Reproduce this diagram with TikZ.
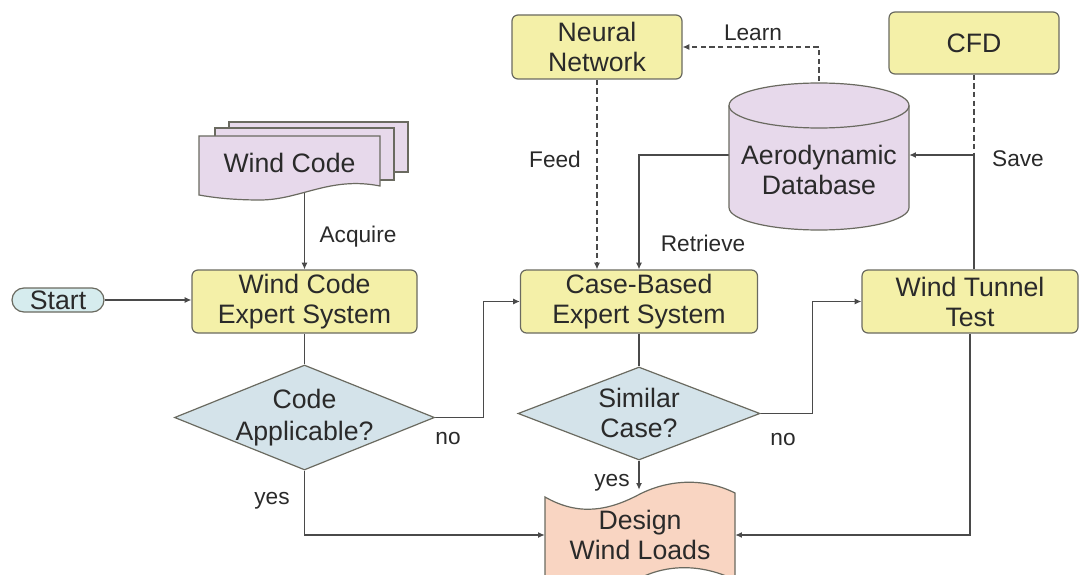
\documentclass[tikz,border=0pt]{standalone}
\usepackage{fontspec}
\setmainfont{Liberation Sans}
\usetikzlibrary{shapes.geometric,arrows.meta,backgrounds}
\definecolor{boxy}{HTML}{F4F0A8}
\definecolor{bord}{HTML}{6A6A60}
\definecolor{diac}{HTML}{D4E3EA}
\definecolor{purp}{HTML}{E7D9EB}
\definecolor{startc}{HTML}{D6ECEE}
\definecolor{peach}{HTML}{F9D5C2}
\definecolor{txt}{HTML}{2A2A2A}
\definecolor{linec}{HTML}{4A4A4A}
\newcommand\bfnt{\fontsize{20}{22.5}\selectfont}
\newcommand\lfnt{\fontsize{17}{20}\selectfont}
\begin{document}
\begin{tikzpicture}[x=0.75pt,y=-0.75pt,
  box/.style={draw=bord, fill=boxy, rounded corners=4.5pt, line width=0.9pt, align=center, font=\bfnt, text=txt, inner sep=0pt},
  dia/.style={diamond, draw=bord, fill=diac, line width=0.9pt, inner sep=0pt},
  dtext/.style={align=center, font=\bfnt, text=txt, inner sep=0pt},
  shp/.style={draw=bord, line width=0.9pt},
  lbl/.style={font=\lfnt, text=txt, inner sep=0pt},
  conn/.style={draw=linec, line width=0.9pt},
  arr/.style={conn, -{Latex[length=5pt,width=4.5pt]}},
  dsh/.style={dash pattern=on 4pt off 2.5pt}]
\useasboundingbox (0,0) rectangle (1080,574);
\clip (0,0) rectangle (1080,574);

% Wind code document stack
\filldraw[shp, fill=purp] (229,122) rectangle (408,172);
\filldraw[shp, fill=purp] (215,128) rectangle (394,180);
\filldraw[shp, fill=purp] (199,136) -- (380,136) -- (380,186) .. controls (330,176) and (300,200) .. (260,200) .. controls (230,200) and (210,197) .. (199,195) -- cycle;
\node[dtext] (wc) at (289.5,163) {Wind Code};

% Start
\node[draw=bord, fill=startc, rounded corners=9pt, line width=0.9pt, minimum width=69pt, minimum height=18pt, inner sep=0pt, font=\bfnt, text=txt] (start) at (58,300) {Start};

% boxes
\node[box, minimum width=168.75pt, minimum height=47.25pt] (wces) at (304.5,301.5) {Wind Code\\Expert System};
\node[box, minimum width=177.75pt, minimum height=47.25pt] (cbes) at (639,301.5) {Case-Based\\Expert System};
\node[box, minimum width=127.5pt, minimum height=48pt] (nn) at (597,47) {Neural\\Network};
\node[box, minimum width=127.5pt, minimum height=46.5pt] (cfd) at (974,43) {CFD};
\node[box, minimum width=162pt, minimum height=47.25pt] (wtt) at (970,301.5) {Wind Tunnel\\Test};

% diamonds
\node[dia, minimum width=195pt, minimum height=78.75pt] (ca) at (304.5,417.5) {};
\node[dtext] at (304.5,418) {Code\\[1.5pt]Applicable?};
\node[dia, minimum width=181.5pt, minimum height=69.75pt] (sc) at (639,413.5) {};
\node[dtext] at (639,413) {Similar\\Case?};

% database cylinder
\filldraw[shp, fill=purp] (729,105.5) -- (729,207.5) arc[start angle=180, end angle=360, x radius=67.5pt, y radius=16.875pt] -- (909,105.5) arc[start angle=0, end angle=180, x radius=67.5pt, y radius=16.875pt] -- cycle;
\draw[shp] (729,105.5) arc[start angle=180, end angle=360, x radius=67.5pt, y radius=16.875pt];
\node[inner sep=0pt, minimum width=135pt, minimum height=110.25pt] (db) at (819,155) {};
\node[dtext] at (819,170) {Aerodynamic\\Database};

% design wind loads tape
\filldraw[shp, fill=peach] (545,497) .. controls (580,517) and (610,510) .. (640,494) .. controls (670,479) and (705,478) .. (735,493) -- (735,580) .. controls (705,565) and (670,563) .. (640,578) .. controls (610,593) and (575,596) .. (545,583) -- cycle;
\node[dtext, minimum width=142.5pt, minimum height=67.5pt] (dwl) at (640,535) {Design\\Wind Loads};

\coordinate (sv) at (cfd.south |- db.east);

\begin{pgfonlayer}{background}
\fill[white] (0,0) rectangle (1080,574);
\draw[arr] (start.east) -- (start.east -| wces.west);
\draw[arr] (wces.north |- wc.center) -- (wces.north);
\draw[conn] (wces.south) -- (ca.north);
\draw[arr] (ca.east) -- ++(48,0) |- (cbes.west);
\draw[arr] (ca.south) |- (dwl.west);
\draw[conn] (cbes.south) -- (sc.north);
\draw[arr] (sc.east) -- ++(52,0) |- (wtt.west);
\draw[arr] (sc.south) -- (sc.south |- dwl.north);
\draw[arr] (wtt.south) |- (dwl.east);
\draw[arr, dsh] (nn.south) -- (nn.south |- cbes.north);
\draw[arr, dsh] (db.north) |- (nn.east);
\draw[arr] (db.west) -| (cbes.north);
\draw[conn, dsh] (cfd.south) -- (sv);
\draw[conn] (sv |- wtt.north) -- (sv);
\draw[arr] (sv) -- (db.east);
\end{pgfonlayer}

% labels
\node[lbl] (l1) at (358,237) {Acquire};
\node[lbl] (l2) at (448,439) {no};
\node[lbl] (l3) at (272,501) {yes};
\node[lbl] (l4) at (555,159) {Feed};
\node[lbl] (l5) at (753,33) {Learn};
\node[lbl] (l6) at (703,243) {Retrieve};
\node[lbl] (l7) at (1018,159) {Save};
\node[lbl] (l8) at (783,440) {no};
\node[lbl] (l9) at (612,483) {yes};
\end{tikzpicture}
\end{document}
